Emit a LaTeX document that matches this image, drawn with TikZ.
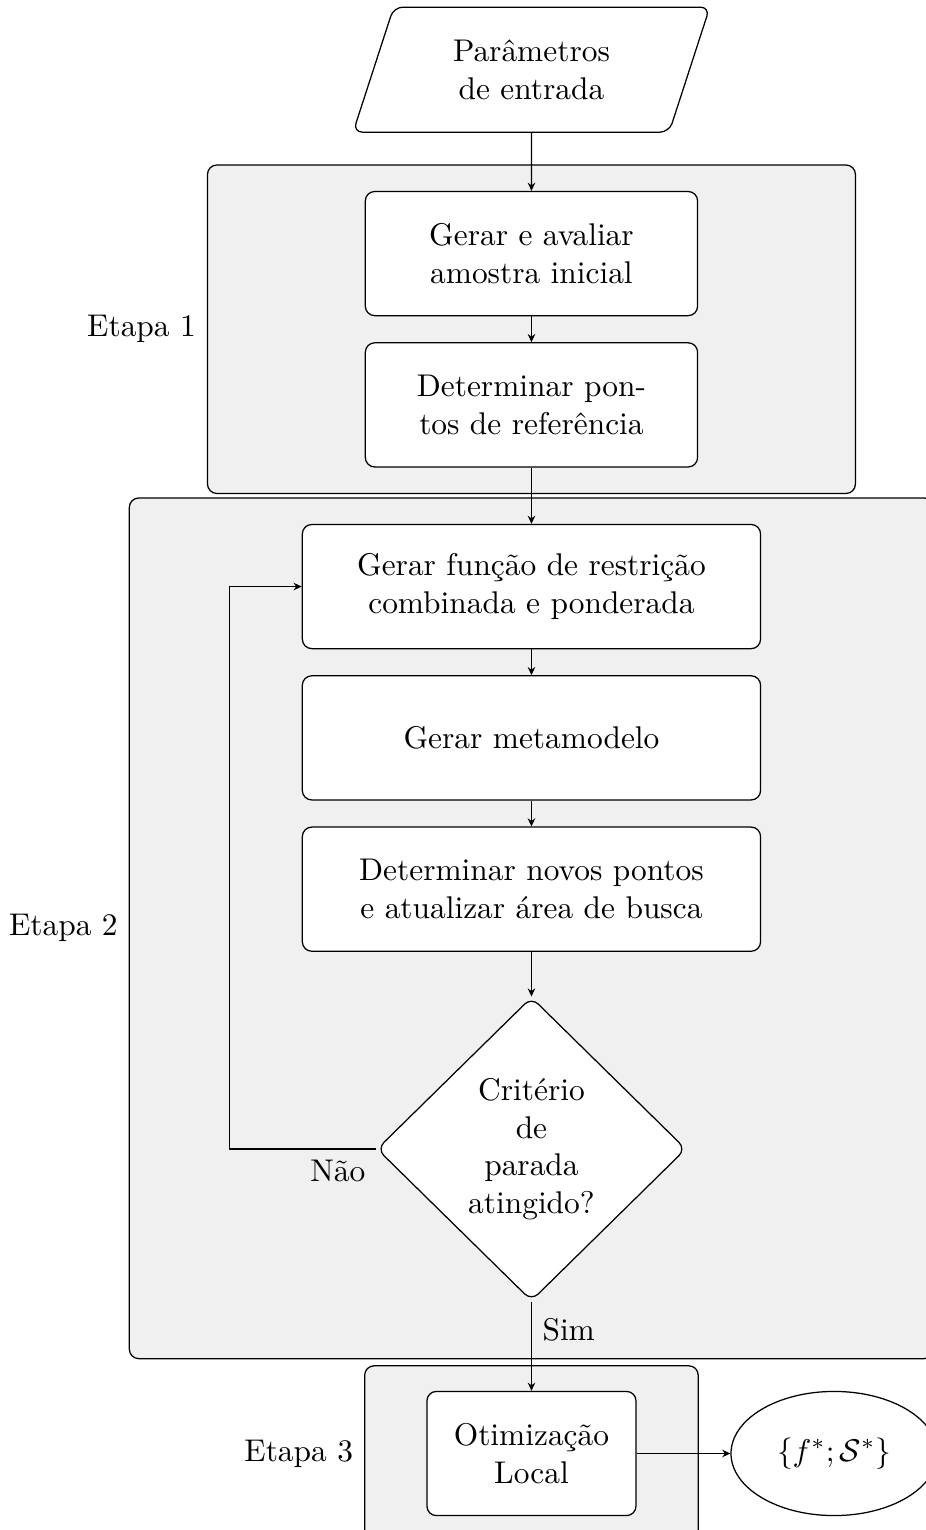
\documentclass[tikz,border=0pt]{standalone}
\usepackage{amsmath}
\usepackage{tikz}
\usetikzlibrary{shapes.geometric, arrows.meta, positioning, calc, fit, backgrounds}
\definecolor{cStage}{RGB}{240,240,240}
\tikzset{
	inbox/.style   ={trapezium, trapezium left angle=72, trapezium right angle=108, rounded corners=3pt, minimum width=3.98cm, minimum height=1.4cm, align=center, draw=black, fill=white},
	stepbox/.style ={rectangle, rounded corners=3pt, minimum width=3.72cm, minimum height=1.39cm, align=center, draw=black, fill=white},
	testbox/.style ={diamond, rounded corners=3pt, minimum width=3.46cm, minimum height=3.4cm, inner sep=0pt, align=center, draw=black, fill=white},
	outbox/.style  ={ellipse, minimum width=2.31cm, minimum height=1.39cm, inner sep=0pt, draw=black, fill=white},
	etapa/.style   ={rectangle, rounded corners=3pt, draw=black, fill=cStage},
	flowline/.style={-{Stealth[length=2.6pt, width=2.4pt]}},
}

\begin{document}
\begin{tikzpicture}[node distance=0.29cm]
	\useasboundingbox (0,0) rectangle (10.36,-17.13);
	\node[inbox] (in) at (5.95,-0.78) {Parâmetros\\de entrada};
	\node[stepbox, below=0.65cm of in] (ger) {Gerar e avaliar\\amostra inicial};
	\node[stepbox, below=of ger] (ref) {Determinar pon-\\tos de referência};
	\node[stepbox, minimum width=5.13cm, below=0.63cm of ref] (fun) {Gerar função de restrição\\combinada e ponderada};
	\node[stepbox, minimum width=5.13cm, below=of fun] (meta) {Gerar metamodelo};
	\node[stepbox, minimum width=5.13cm, below=of meta] (busca) {Determinar novos pontos\\e atualizar área de busca};
	\node[testbox, below=0.5cm of busca] (crit) {Critério\\de\\parada\\atingido?};
	\node[stepbox, minimum width=2.34cm, below=1.0cm of crit] (otim) {Otimização\\Local};
	\node[outbox, right=1.05cm of otim] (res) {$\{f^*;\mathcal{S}^*\}$};
	% stage frames
	\coordinate (e2b) at ($(crit.south)+(0,-0.35)$);
	\begin{scope}[on background layer]
		\node[etapa, fit=(ger)(ref), inner xsep=1.76cm, inner ysep=0.29cm] (st1) {};
		\node[etapa, fit=(fun)(e2b), inner xsep=1.93cm, inner ysep=0.29cm] (st2) {};
		\node[etapa, fit=(otim), inner xsep=0.69cm, inner ysep=0.28cm] (st3) {};
	\end{scope}
	\node[left=0pt of st1.west] (lb1) {Etapa 1};
	\node[left=0pt of st2.west] (lb2) {Etapa 2};
	\node[left=0pt of st3.west] (lb3) {Etapa 3};
	% connectors
	\draw[flowline] (in) -- (ger);
	\draw[flowline] (ger) -- (ref);
	\draw[flowline] (ref) -- (fun);
	\draw[flowline] (fun) -- (meta);
	\draw[flowline] (meta) -- (busca);
	\draw[flowline] (busca) -- (crit);
	\draw[flowline] (crit) -- node[right, pos=0.32] (sim) {Sim} (otim);
	\draw[flowline] (crit.west) -- ++(-1.64,0) |- (fun.west);
	\node[anchor=north east] (nao) at (crit.west) {Não};
	\draw[flowline] (otim) -- (res);
\end{tikzpicture}
\end{document}
